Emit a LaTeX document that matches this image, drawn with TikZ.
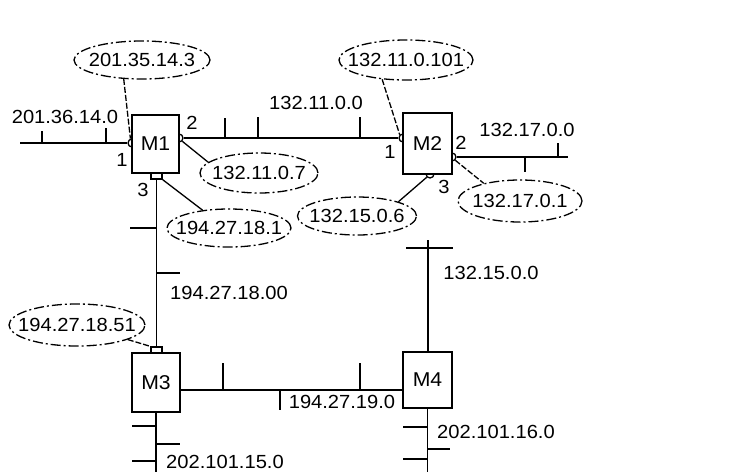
\documentclass[tikz,border=0pt]{standalone}
\usepackage{fontspec}
\setmainfont{Liberation Sans}[FakeStretch=1.06]
\usetikzlibrary{shapes.geometric}
\begin{document}
\begin{tikzpicture}[x=1pt,y=-1pt, line width=1.7pt,
  box/.style={draw, fill=white, inner sep=0, font=\fontsize{20}{20}\selectfont},
  addr/.style={draw, ellipse, dash pattern=on 10pt off 3pt on 2pt off 3pt, line width=1.3pt, inner sep=0},
  lbl/.style={inner sep=0, font=\fontsize{19}{19}\selectfont},
  port/.style={draw, circle, fill=white, minimum size=8pt, inner sep=0, line width=1.3pt},
  sport/.style={draw, rectangle, fill=white, minimum width=11pt, minimum height=6pt, inner sep=0, line width=1.3pt},
  callout/.style={line width=1.3pt},
  dcallout/.style={line width=1.3pt, dash pattern=on 6pt off 2pt}]
\useasboundingbox (0,0) rectangle (747,472);

% address ellipses
\node[addr, minimum width=136pt, minimum height=38pt] (e1) at (142,60) {};
\node[addr, minimum width=134pt, minimum height=40pt] (e2) at (406,60) {};
\node[addr, minimum width=118pt, minimum height=40pt] (e3) at (259,173) {};
\node[addr, minimum width=124pt, minimum height=42pt] (e4) at (520,201) {};
\node[addr, minimum width=119pt, minimum height=38pt] (e5) at (357,216) {};
\node[addr, minimum width=124pt, minimum height=38pt] (e6) at (229,228) {};
\node[addr, minimum width=136pt, minimum height=42pt] (e7) at (77,325) {};
\node[lbl] (t1) at (e1) {201.35.14.3};
\node[lbl] (t2) at (e2) {132.11.0.101};
\node[lbl] (t3) at (e3) {132.11.0.7};
\node[lbl] (t4) at (e4) {132.17.0.1};
\node[lbl] (t5) at (e5) {132.15.0.6};
\node[lbl] (t6) at (e6) {194.27.18.1};
\node[lbl] (t7) at (e7) {194.27.18.51};

% coordinates of free ends
\coordinate (n1a) at (20,143);
\coordinate (n3b) at (568,157);
\coordinate (n6a) at (428,240);
\coordinate (n7b) at (427.5,472);
\coordinate (n8b) at (156,472);

% ports (drawn before boxes so the boxes hide their inner halves)
\node[port] (m1p1) at (132,143) {};
\node[port] (m1p2) at (179,138) {};
\node[port] (m2p1) at (403,138) {};
\node[port] (m2p2) at (452,157) {};
\node[port] (m2p3) at (430,174) {};

% routers
\node[box, minimum width=47pt, minimum height=58pt] (M1) at (155.5,144) {M1};
\node[box, minimum width=49pt, minimum height=61pt] (M2) at (427.5,143.5) {M2};
\node[box, minimum width=48pt, minimum height=59pt] (M3) at (156,382.5) {M3};
\node[box, minimum width=49pt, minimum height=56pt] (M4) at (427.5,380) {M4};
\node[sport] (m1p3) at (156.5,176) {};
\node[sport] (m3p1) at (156.5,350) {};

% networks
\draw (n1a) -- (m1p1.west);
\draw (m1p2.east) -- (m2p1.west);
\draw (m2p2.east) -- (n3b);
\draw (m1p3.south) -- (m3p1.north);
\draw ([yshift=-7.5pt]M3.east) -- ([yshift=-7.5pt]M3.east -| M4.west);
\draw (n6a) -- (n6a |- M4.north);
\draw (M4.south) -- (n7b);
\draw (M3.south) -- (n8b);

% ticks
\draw (42,143) -- (42,131);
\draw (106,143) -- (106,128);
\draw (225,138) -- (225,118);
\draw (258,138) -- (258,117);
\draw (360,138) -- (360,117);
\draw (525,157) -- (525,172);
\draw (558,157) -- (558,143);
\draw (156.5,228) -- (130,228);
\draw (156.5,273) -- (180,273);
\draw (223,390) -- (223,363);
\draw (360,390) -- (360,363);
\draw (280,390) -- (280,410);
\draw (406,248) -- (453,248);
\draw (427.5,427) -- (403,427);
\draw (427.5,449) -- (450,449);
\draw (427.5,459) -- (403,459);
\draw (156,426) -- (132,426);
\draw (156,444) -- (180,444);
\draw (156,461) -- (132,461);

% callouts
\draw[dcallout] (e1.226) -- (m1p1.110);
\draw[dcallout] (e2.219) -- (m2p1.135);
\draw[callout] (m1p2.-45) -- (e3.168);
\draw[dcallout] (m2p2.-45) -- (e4.154);
\draw[callout] (m2p3.-135) -- (e5.19);
\draw[callout] (m1p3.south east) -- (e6.146);
\draw[dcallout] (e7.-16) -- (m3p1.north west);

% port numbers
\node[lbl] (l11) at (122,160) {1};
\node[lbl] (l12) at (192,123) {2};
\node[lbl] (l13) at (143,190) {3};
\node[lbl] (l21) at (390,152) {1};
\node[lbl] (l22) at (461,143) {2};
\node[lbl] (l23) at (444,187) {3};

% network labels
\node[lbl] (a1) at (65,117) {201.36.14.0};
\node[lbl] (a2) at (316,103) {132.11.0.0};
\node[lbl] (a3) at (527,130) {132.17.0.0};
\node[lbl] (a4) at (229,293) {194.27.18.00};
\node[lbl] (a5) at (342,402) {194.27.19.0};
\node[lbl] (a6) at (491,273) {132.15.0.0};
\node[lbl] (a7) at (496,432) {202.101.16.0};
\node[lbl] (a8) at (225,462) {202.101.15.0};
\end{tikzpicture}
\end{document}
